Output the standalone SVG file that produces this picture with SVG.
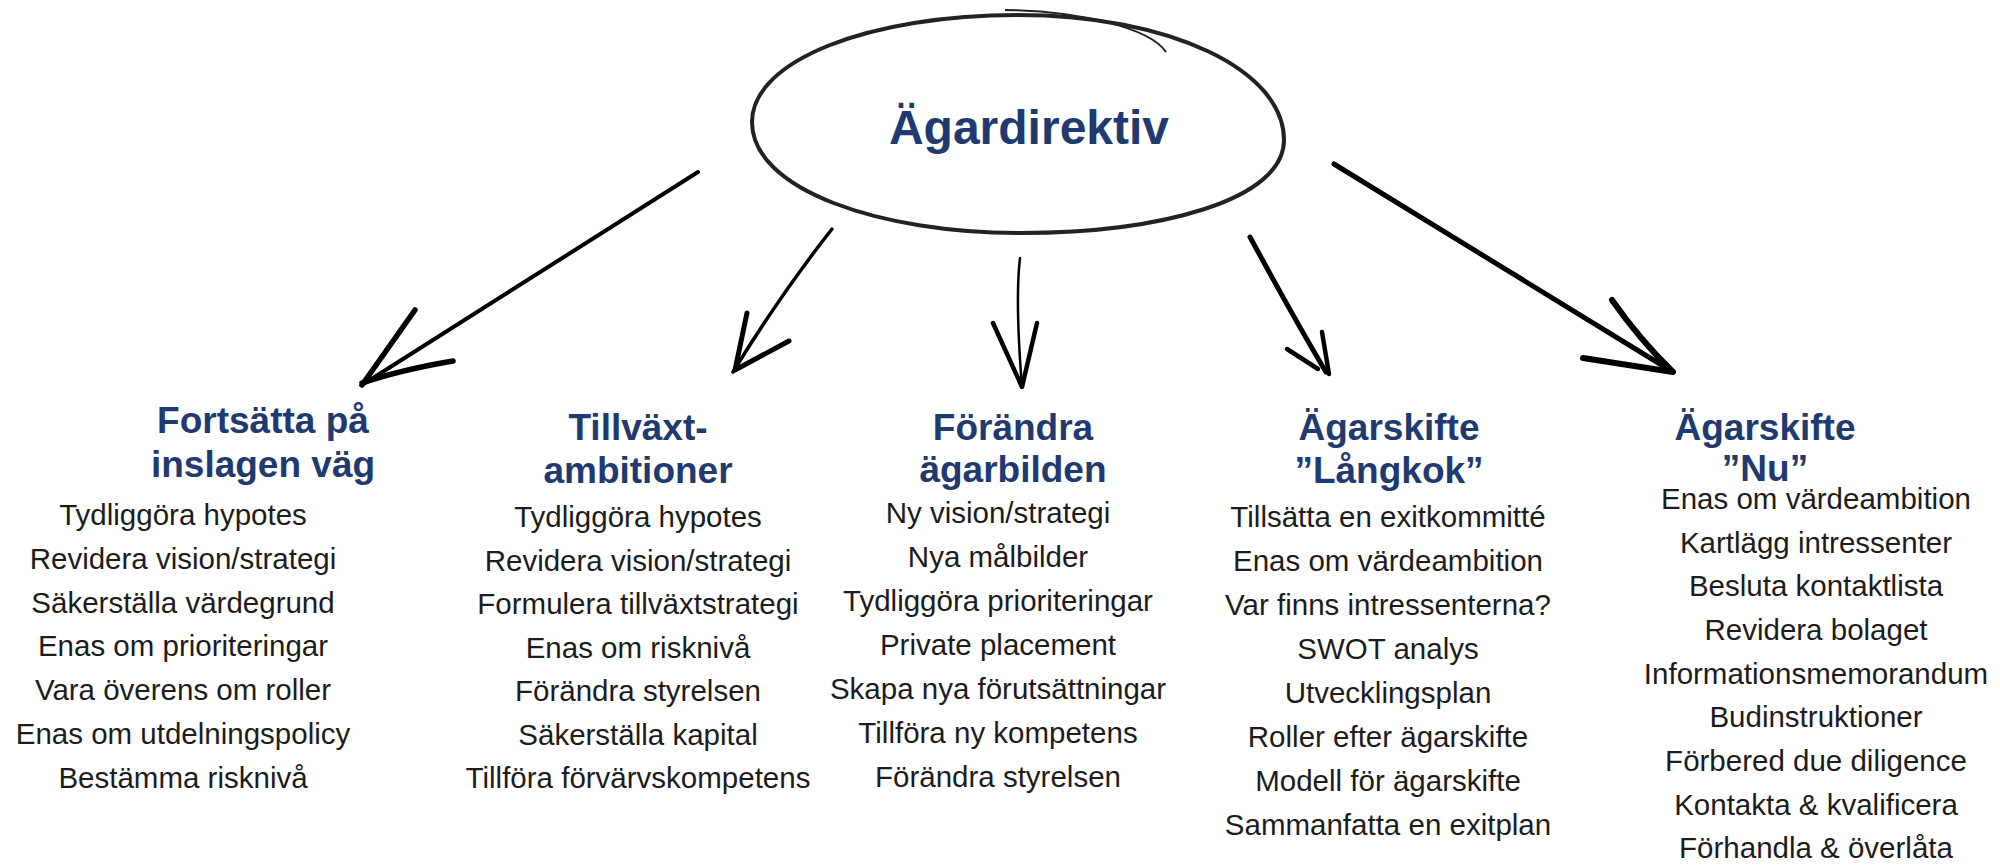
<svg xmlns="http://www.w3.org/2000/svg" width="2000" height="865" viewBox="0 0 2000 865">
<style>
.h{font-family:"Liberation Sans",Arial,sans-serif;font-weight:bold;font-size:37px;fill:#1f3a70;text-anchor:middle}
.t{font-family:"Liberation Sans",Arial,sans-serif;font-size:29.5px;fill:#1c1c1c;text-anchor:middle}
.c{fill:none;stroke:#000;stroke-linecap:round;stroke-linejoin:round}
</style>
<rect width="2000" height="865" fill="#fff"/>
<g id="root">
<path d="M1018,15 C1170,15 1284,70 1284,140 C1284,200 1160,233 1020,233 C880,233 752,190 752,122 C752,60 870,15 1018,15 Z" fill="none" stroke="#222" stroke-width="4"/>
<path d="M1005,10 C1080,11 1150,28 1166,52" fill="none" stroke="#222" stroke-width="2"/>
<text x="1029" y="144" class="h" style="font-size:48px">Ägardirektiv</text>
</g>
<g id="connectors">
<path class="c" stroke-width="4" d="M698,172 L362,385"/>
<path class="c" stroke-width="5.5" d="M415,310 L362,385 M453,361 Q400,370 362,383"/>
<path class="c" stroke-width="3.5" d="M832,229 Q780,295 733,372"/>
<path class="c" stroke-width="5" d="M747,313 L735,370 L789,341"/>
<path class="c" stroke-width="2.5" d="M1020,258 Q1015,300 1022,387"/>
<path class="c" stroke-width="4.5" d="M993,323 L1022,387 L1037,323"/>
<path class="c" stroke-width="5" d="M1250,237 Q1295,320 1326,372"/>
<path class="c" stroke-width="4.5" d="M1287,349 L1318,369 M1322,332 L1329,374"/>
<path class="c" stroke-width="5" d="M1334,164 L1673,372"/>
<path class="c" stroke-width="6" d="M1612,300 Q1640,340 1673,372 L1583,358"/>
</g>
<g id="col1">
<text class="h" x="263" y="433">Fortsätta på</text>
<text class="h" x="263" y="477">inslagen väg</text>
<text class="t" x="183" y="525">Tydliggöra hypotes</text>
<text class="t" x="183" y="569">Revidera vision/strategi</text>
<text class="t" x="183" y="613">Säkerställa värdegrund</text>
<text class="t" x="183" y="656">Enas om prioriteringar</text>
<text class="t" x="183" y="700">Vara överens om roller</text>
<text class="t" x="183" y="744">Enas om utdelningspolicy</text>
<text class="t" x="183" y="788">Bestämma risknivå</text>
</g>
<g id="col2">
<text class="h" x="638" y="440">Tillväxt-</text>
<text class="h" x="638" y="483">ambitioner</text>
<text class="t" x="638" y="527">Tydliggöra hypotes</text>
<text class="t" x="638" y="571">Revidera vision/strategi</text>
<text class="t" x="638" y="614">Formulera tillväxtstrategi</text>
<text class="t" x="638" y="658">Enas om risknivå</text>
<text class="t" x="638" y="701">Förändra styrelsen</text>
<text class="t" x="638" y="745">Säkerställa kapital</text>
<text class="t" x="638" y="788">Tillföra förvärvskompetens</text>
</g>
<g id="col3">
<text class="h" x="1013" y="440">Förändra</text>
<text class="h" x="1013" y="482">ägarbilden</text>
<text class="t" x="998" y="523">Ny vision/strategi</text>
<text class="t" x="998" y="567">Nya målbilder</text>
<text class="t" x="998" y="611">Tydliggöra prioriteringar</text>
<text class="t" x="998" y="655">Private placement</text>
<text class="t" x="998" y="699">Skapa nya förutsättningar</text>
<text class="t" x="998" y="743">Tillföra ny kompetens</text>
<text class="t" x="998" y="787">Förändra styrelsen</text>
</g>
<g id="col4">
<text class="h" x="1389" y="440">Ägarskifte</text>
<text class="h" x="1389" y="483">”Långkok”</text>
<text class="t" x="1388" y="527">Tillsätta en exitkommitté</text>
<text class="t" x="1388" y="571">Enas om värdeambition</text>
<text class="t" x="1388" y="615">Var finns intressenterna?</text>
<text class="t" x="1388" y="659">SWOT analys</text>
<text class="t" x="1388" y="703">Utvecklingsplan</text>
<text class="t" x="1388" y="747">Roller efter ägarskifte</text>
<text class="t" x="1388" y="791">Modell för ägarskifte</text>
<text class="t" x="1388" y="835">Sammanfatta en exitplan</text>
</g>
<g id="col5">
<text class="h" x="1765" y="440">Ägarskifte</text>
<text class="h" x="1765" y="481">”Nu”</text>
<text class="t" x="1816" y="509">Enas om värdeambition</text>
<text class="t" x="1816" y="553">Kartlägg intressenter</text>
<text class="t" x="1816" y="596">Besluta kontaktlista</text>
<text class="t" x="1816" y="640">Revidera bolaget</text>
<text class="t" x="1816" y="684">Informationsmemorandum</text>
<text class="t" x="1816" y="727">Budinstruktioner</text>
<text class="t" x="1816" y="771">Förbered due diligence</text>
<text class="t" x="1816" y="815">Kontakta &amp; kvalificera</text>
<text class="t" x="1816" y="858">Förhandla &amp; överlåta</text>
</g>
</svg>
